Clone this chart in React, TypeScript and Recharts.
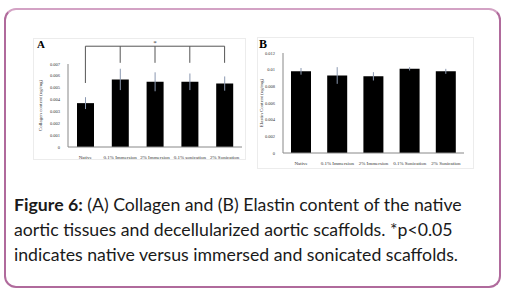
import { Bar, BarChart, ErrorBar, ReferenceDot, ReferenceLine, XAxis, YAxis } from 'recharts'

const CATEGORIES_A = ['Native', '0.1% Immersion', '2% Immersion', '0.1% sonication', '2% Sonication']
const CATEGORIES_B = ['Native', '0.1% Immersion', '2% Immersion', '0.1% Sonication', '2% Sonication']
const COLLAGEN = [0.0037, 0.0057, 0.0055, 0.0055, 0.00535]
const COLLAGEN_ERR = [0.0005, 0.0009, 0.0008, 0.0007, 0.0006]
const ELASTIN = [0.0098, 0.0093, 0.0092, 0.0101, 0.0098]
const ELASTIN_ERR = [0.0004, 0.001, 0.0005, 0.0002, 0.0003]
const COLLAGEN_TICKS = [0, 0.001, 0.002, 0.003, 0.004, 0.005, 0.006, 0.007]
const ELASTIN_TICKS = [0, 0.002, 0.004, 0.006, 0.008, 0.01, 0.012]

// significance bracket: native vs the four treated groups
const BRACKET_Y = 0.0085
const NATIVE_DROP = 0.0054
const TREATED_DROP = 0.0071

const collagenData = CATEGORIES_A.map((name, i) => ({ name, value: COLLAGEN[i], err: COLLAGEN_ERR[i] }))
const elastinData = CATEGORIES_B.map((name, i) => ({ name, value: ELASTIN[i], err: ELASTIN_ERR[i] }))

const serif = '"Liberation Serif", "DejaVu Serif", serif'
const tick = { fill: '#333', fontSize: 4.5, fontFamily: serif }
const catTick = { fill: '#333', fontSize: 5, fontFamily: serif }
const fmt = (v: number) => (v === 0 ? '0' : String(v))

export default function App() {
  return (
    <div style={{ position: 'absolute', left: 0, top: 0, width: 516, height: 296, background: '#fff', overflow: 'hidden' }}>
      <div
        style={{
          position: 'absolute', left: 4, top: 8, width: 493, height: 276,
          border: '2px solid #b06a9c', borderTopColor: '#d3a2c4', borderRadius: 12,
        }}
      />

      {/* panel A */}
      <div style={{ position: 'absolute', left: 33, top: 38, width: 211, height: 120, border: '1px solid #ececec' }} />
      <div style={{ position: 'absolute', left: 37, top: 38, fontFamily: serif, fontWeight: 700, fontSize: 11 }}>A</div>
      <div style={{ position: 'absolute', left: 30, top: 38 }}>
        <BarChart width={220} height={125} data={collagenData} margin={{ top: 26, right: 8, left: 0, bottom: 4 }}>
          <XAxis dataKey="name" tick={catTick} tickLine={false} axisLine={{ stroke: '#888' }} interval={0} height={12} />
          <YAxis
            domain={[0, 0.007]} ticks={COLLAGEN_TICKS} tickFormatter={fmt} tick={tick} tickLine={false}
            axisLine={{ stroke: '#888' }} width={38} allowDataOverflow
            label={{ value: 'Collagen content (ug/mg)', angle: -90, position: 'insideLeft', offset: 10, style: { ...tick, fontSize: 5, textAnchor: 'middle' } }}
          />
          <Bar dataKey="value" fill="#000" barSize={17} isAnimationActive={false}>
            <ErrorBar dataKey="err" direction="y" width={0} stroke="#8a98b0" strokeWidth={1} />
          </Bar>
          <ReferenceLine
            segment={[{ x: CATEGORIES_A[0], y: BRACKET_Y }, { x: CATEGORIES_A[4], y: BRACKET_Y }]}
            stroke="#555" ifOverflow="visible"
          />
          <ReferenceLine
            segment={[{ x: CATEGORIES_A[0], y: BRACKET_Y }, { x: CATEGORIES_A[0], y: NATIVE_DROP }]}
            stroke="#555" ifOverflow="visible"
          />
          {CATEGORIES_A.slice(1).map((c) => (
            <ReferenceLine
              key={c}
              segment={[{ x: c, y: BRACKET_Y }, { x: c, y: TREATED_DROP }]}
              stroke="#555" ifOverflow="visible"
            />
          ))}
          <ReferenceDot
            x={CATEGORIES_A[2]} y={BRACKET_Y} r={0} ifOverflow="visible"
            label={{ value: '*', position: 'top', offset: 1, fill: '#333', fontSize: 7, fontFamily: serif }}
          />
        </BarChart>
      </div>

      {/* panel B */}
      <div style={{ position: 'absolute', left: 257, top: 37, width: 215, height: 130, border: '1px solid #ececec' }} />
      <div style={{ position: 'absolute', left: 259, top: 37, fontFamily: serif, fontWeight: 700, fontSize: 12 }}>B</div>
      <div style={{ position: 'absolute', left: 257, top: 37 }}>
        <BarChart width={215} height={130} data={elastinData} margin={{ top: 16, right: 8, left: 0, bottom: 2 }}>
          <XAxis dataKey="name" tick={catTick} tickLine={false} axisLine={{ stroke: '#888' }} interval={0} height={12} />
          <YAxis
            domain={[0, 0.012]} ticks={ELASTIN_TICKS} tickFormatter={fmt} tick={tick} tickLine={false}
            axisLine={{ stroke: '#888' }} width={26}
            label={{ value: 'Elastin Content (ug/mg)', angle: -90, position: 'insideLeft', offset: 4, style: { ...tick, fontSize: 5, textAnchor: 'middle' } }}
          />
          <Bar dataKey="value" fill="#000" barSize={20} isAnimationActive={false}>
            <ErrorBar dataKey="err" direction="y" width={0} stroke="#8a98b0" strokeWidth={1} />
          </Bar>
        </BarChart>
      </div>

      <div
        style={{
          position: 'absolute', left: 14, top: 192, fontFamily: 'Lato, sans-serif', whiteSpace: 'nowrap',
          fontSize: 17.7, lineHeight: '25px', color: '#1a1a1a',
        }}
      >
        <span style={{ fontWeight: 700 }}>Figure 6:</span> (A) Collagen and (B) Elastin content of the native
        <br />
        aortic tissues and decellularized aortic scaffolds. *p&lt;0.05
        <br />
        indicates native versus immersed and sonicated scaffolds.
      </div>
    </div>
  )
}
